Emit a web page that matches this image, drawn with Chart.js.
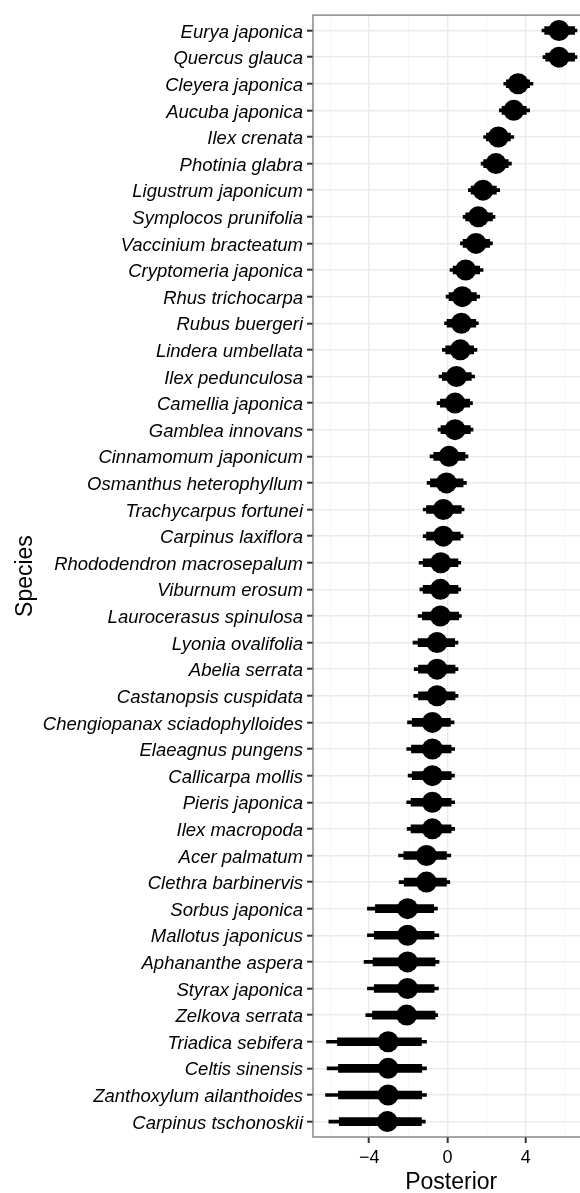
<!DOCTYPE html>
<html><head><meta charset="utf-8">
<script src="https://cdn.jsdelivr.net/npm/chart.js@4/dist/chart.umd.min.js"></script>
<style>
html,body{margin:0;padding:0;background:#fff;overflow:hidden;width:580px;height:1193px;}
#wrap{position:relative;width:600px;height:1193px;}
</style></head><body>
<div id="wrap"><canvas id="c"></canvas></div>
<script>
const species = [
  "Eurya japonica","Quercus glauca","Cleyera japonica","Aucuba japonica","Ilex crenata",
  "Photinia glabra","Ligustrum japonicum","Symplocos prunifolia","Vaccinium bracteatum","Cryptomeria japonica",
  "Rhus trichocarpa","Rubus buergeri","Lindera umbellata","Ilex pedunculosa","Camellia japonica",
  "Gamblea innovans","Cinnamomum japonicum","Osmanthus heterophyllum","Trachycarpus fortunei","Carpinus laxiflora",
  "Rhododendron macrosepalum","Viburnum erosum","Laurocerasus spinulosa","Lyonia ovalifolia","Abelia serrata",
  "Castanopsis cuspidata","Chengiopanax sciadophylloides","Elaeagnus pungens","Callicarpa mollis","Pieris japonica",
  "Ilex macropoda","Acer palmatum","Clethra barbinervis","Sorbus japonica","Mallotus japonicus",
  "Aphananthe aspera","Styrax japonica","Zelkova serrata","Triadica sebifera","Celtis sinensis",
  "Zanthoxylum ailanthoides","Carpinus tschonoskii"
];
const median = [
  5.70, 5.70, 3.61, 3.39, 2.60, 2.48, 1.82, 1.58, 1.46, 0.93,
  0.76, 0.71, 0.66, 0.46, 0.39, 0.39, 0.08, -0.05, -0.21, -0.21,
  -0.34, -0.36, -0.36, -0.53, -0.53, -0.53, -0.77, -0.77, -0.77, -0.77,
  -0.77, -1.07, -1.07, -2.04, -2.04, -2.04, -2.04, -2.08, -3.03, -3.03,
  -3.03, -3.07
];
const lowerOuter = [
  4.83, 4.88, 2.88, 2.65, 1.85, 1.72, 1.07, 0.80, 0.66, 0.13,
  -0.07, -0.15, -0.26, -0.43, -0.53, -0.48, -0.89, -1.04, -1.24, -1.24,
  -1.45, -1.41, -1.50, -1.76, -1.70, -1.72, -2.04, -2.08, -2.01, -2.08,
  -2.06, -2.50, -2.47, -4.09, -4.09, -4.26, -4.09, -4.17, -6.18, -6.15,
  -6.23, -6.06
];
const lowerInner = [
  4.97, 5.02, 3.01, 2.79, 1.99, 1.85, 1.21, 0.93, 0.80, 0.29,
  0.08, -0.02, -0.09, -0.26, -0.36, -0.33, -0.70, -0.87, -1.07, -1.07,
  -1.24, -1.24, -1.28, -1.50, -1.48, -1.48, -1.80, -1.84, -1.80, -1.86,
  -1.86, -2.23, -2.21, -3.68, -3.74, -3.80, -3.74, -3.83, -5.62, -5.57,
  -5.57, -5.53
];
const upperInner = [
  6.50, 6.50, 4.20, 4.03, 3.22, 3.11, 2.50, 2.30, 2.16, 1.65,
  1.48, 1.45, 1.34, 1.22, 1.14, 1.17, 0.90, 0.80, 0.71, 0.66,
  0.54, 0.54, 0.58, 0.37, 0.39, 0.39, 0.15, 0.19, 0.19, 0.19,
  0.19, -0.05, -0.05, -0.70, -0.68, -0.63, -0.68, -0.63, -1.33, -1.31,
  -1.31, -1.33
];
const upperOuter = [
  6.62, 6.62, 4.37, 4.20, 3.39, 3.27, 2.67, 2.43, 2.30, 1.82,
  1.65, 1.58, 1.51, 1.39, 1.28, 1.31, 1.05, 0.97, 0.85, 0.80,
  0.68, 0.68, 0.71, 0.54, 0.54, 0.54, 0.34, 0.37, 0.36, 0.37,
  0.37, 0.17, 0.12, -0.51, -0.44, -0.43, -0.46, -0.50, -1.07, -1.07,
  -1.07, -1.13
];
const xTickValues = [-6, -4, -2, 0, 2, 4, 6];
const xTickLabels = ["", "\u22124", "", "0", "", "4", ""];
const xMajor = [false, true, false, true, false, true, false];

const FONT = "'Liberation Sans', Arial, Helvetica, sans-serif";

const panelBorder = {
  id: 'panelBorder',
  afterDatasetsDraw(chart) {
    const a = chart.chartArea, ctx = chart.ctx;
    ctx.save();
    ctx.strokeStyle = '#808080';
    ctx.lineWidth = 1.4;
    ctx.strokeRect(a.left, a.top, a.right - a.left, a.bottom - a.top);
    ctx.restore();
  }
};

new Chart(document.getElementById('c'), {
  type: 'bar',
  data: {
    datasets: [
      {
        type: 'scatter',
        data: median.map((v, i) => ({x: v, y: i})),
        backgroundColor: '#000', borderColor: '#000',
        pointRadius: 10.5, pointBorderWidth: 0, order: 0
      },
      {
        type: 'bar', indexAxis: 'y', grouped: false,
        data: species.map((s, i) => ({x: [lowerInner[i], upperInner[i]], y: i})),
        backgroundColor: '#000', borderWidth: 0, barThickness: 8, order: 1
      },
      {
        type: 'bar', indexAxis: 'y', grouped: false,
        data: species.map((s, i) => ({x: [lowerOuter[i], upperOuter[i]], y: i})),
        backgroundColor: '#000', borderWidth: 0, barThickness: 3, order: 2
      }
    ]
  },
  options: {
    responsive: true, maintainAspectRatio: false, animation: false,
    indexAxis: 'y',
    layout: {padding: {top: 9.5, right: 10, left: 0, bottom: 0}},
    plugins: {legend: {display: false}, tooltip: {enabled: false}},
    scales: {
      x: {
        type: 'linear', position: 'bottom', min: -6.87, max: 7.26, offset: false,
        afterBuildTicks: (s) => { s.ticks = xTickValues.map(v => ({value: v})); },
        afterFit: (s) => { s.height = 56; },
        ticks: {
          autoSkip: false, maxRotation: 0, color: '#000', padding: 4,
          font: {family: FONT, size: 18},
          callback: (v, i) => xTickLabels[i]
        },
        grid: {
          offset: false,
          color: (c) => xMajor[c.index] ? '#ebebeb' : '#f4f4f4',
          lineWidth: (c) => xMajor[c.index] ? 1.4 : 0.8,
          drawTicks: true, tickLength: 6, tickWidth: 2,
          tickColor: (c) => xMajor[c.index] ? '#333' : 'rgba(0,0,0,0)'
        },
        border: {display: false},
        title: {
          display: true, text: 'Posterior', color: '#000',
          font: {family: FONT, size: 23, lineHeight: 1},
          padding: {top: 0, bottom: -1}
        }
      },
      y: {
        type: 'linear', reverse: true, min: -0.58, max: 41.58, offset: false,
        afterBuildTicks: (s) => { s.ticks = species.map((n, i) => ({value: i})); },
        afterFit: (s) => { s.width = 313; },
        ticks: {
          autoSkip: false, color: '#000', padding: 4, labelOffset: 2,
          font: {family: FONT, size: 18.5, style: 'italic'},
          callback: (v, i) => species[i]
        },
        grid: {
          offset: false,
          color: '#ebebeb', lineWidth: 1.4,
          drawTicks: true, tickLength: 6, tickWidth: 2, tickColor: '#333'
        },
        border: {display: false},
        title: {
          display: true, text: 'Species', color: '#000',
          font: {family: FONT, size: 23, lineHeight: 1},
          padding: {top: 14, bottom: 0}
        }
      }
    }
  },
  plugins: [panelBorder]
});
</script>
</body></html>
